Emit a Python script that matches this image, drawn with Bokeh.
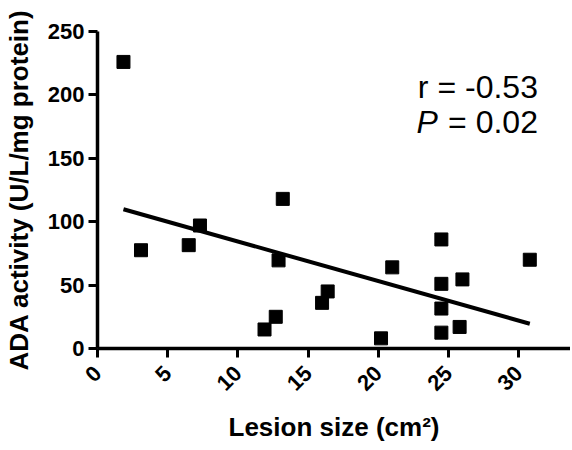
import math
import numpy as np
from bokeh.plotting import figure
from bokeh.models import Range1d, Label, FixedTicker
from bokeh.embed import file_html
from bokeh.resources import INLINE

# Data
lesion_size = [1.85, 3.1, 6.5, 7.3, 13.2, 12.9, 12.7, 11.9, 16.0, 16.4,
               20.2, 21.0, 24.5, 24.5, 24.5, 24.5, 26.0, 25.8, 30.8]
ada_activity = [226, 77.5, 81.5, 97, 118, 69.5, 25, 15, 36, 45,
                8, 64, 86, 51, 31.5, 12.5, 54.5, 17, 70]
fit_slope = -3.12
fit_intercept = 115.6
x_ticks = [0, 5, 10, 15, 20, 25, 30]
y_ticks = [0, 50, 100, 150, 200, 250]
r_text = "r = -0.53"
p_symbol = "P"
p_value_text = "= 0.02"

FONT = "Liberation Sans"

p = figure(width=570, height=448, output_backend="svg", toolbar_location=None,
           x_range=Range1d(0, 33.7), y_range=Range1d(0, 250),
           min_border_left=97, min_border_right=0, min_border_top=31,
           min_border_bottom=100)
p.outline_line_color = None
p.grid.grid_line_color = None
p.background_fill_color = "white"
p.border_fill_color = "white"

# regression line
fx = np.array([min(lesion_size), max(lesion_size)])
fy = fit_intercept + fit_slope * fx
p.line(fx, fy, line_color="black", line_width=4)

p.scatter(lesion_size, ada_activity, marker="square", size=13,
          fill_color="black", line_color="black")

for ax in (p.xaxis[0], p.yaxis[0]):
    ax.axis_line_width = 3.5
    ax.axis_line_color = "black"
    ax.major_tick_line_width = 3
    ax.major_tick_line_color = "black"
    ax.major_tick_out = 9
    ax.major_tick_in = 0
    ax.minor_tick_line_color = None
    ax.major_label_text_font = FONT
    ax.major_label_text_font_style = "bold"
    ax.major_label_text_font_size = "22px"
    ax.major_label_text_color = "black"
    ax.axis_label_text_font = FONT
    ax.axis_label_text_font_style = "bold"
    ax.axis_label_text_font_size = "26px"
    ax.axis_label_text_color = "black"

p.xaxis.ticker = FixedTicker(ticks=x_ticks)
p.yaxis.ticker = FixedTicker(ticks=y_ticks)
p.xaxis.major_label_orientation = math.pi / 4
p.xaxis.major_label_standoff = 12
p.yaxis.major_label_standoff = 4
p.xaxis.axis_label = "Lesion size (cm²)"
p.yaxis.axis_label = "ADA activity (U/L/mg protein)"
p.xaxis.axis_label_standoff = 12
p.yaxis.axis_label_standoff = 11

p.add_layout(Label(x=31.38, y=206.5, text=r_text, text_align="right",
                   text_baseline="alphabetic", text_font=FONT,
                   text_font_size="32px", text_color="black"))
p.add_layout(Label(x=31.38, y=178.8, text=p_value_text, text_align="right",
                   text_baseline="alphabetic", text_font=FONT,
                   text_font_size="32px", text_color="black"))
p.add_layout(Label(x=31.38, y=178.8, x_offset=-100, text=p_symbol, text_align="right",
                   text_baseline="alphabetic", text_font=FONT,
                   text_font_size="32px", text_font_style="italic",
                   text_color="black"))

open("out.html", "w").write(file_html(p, INLINE))
